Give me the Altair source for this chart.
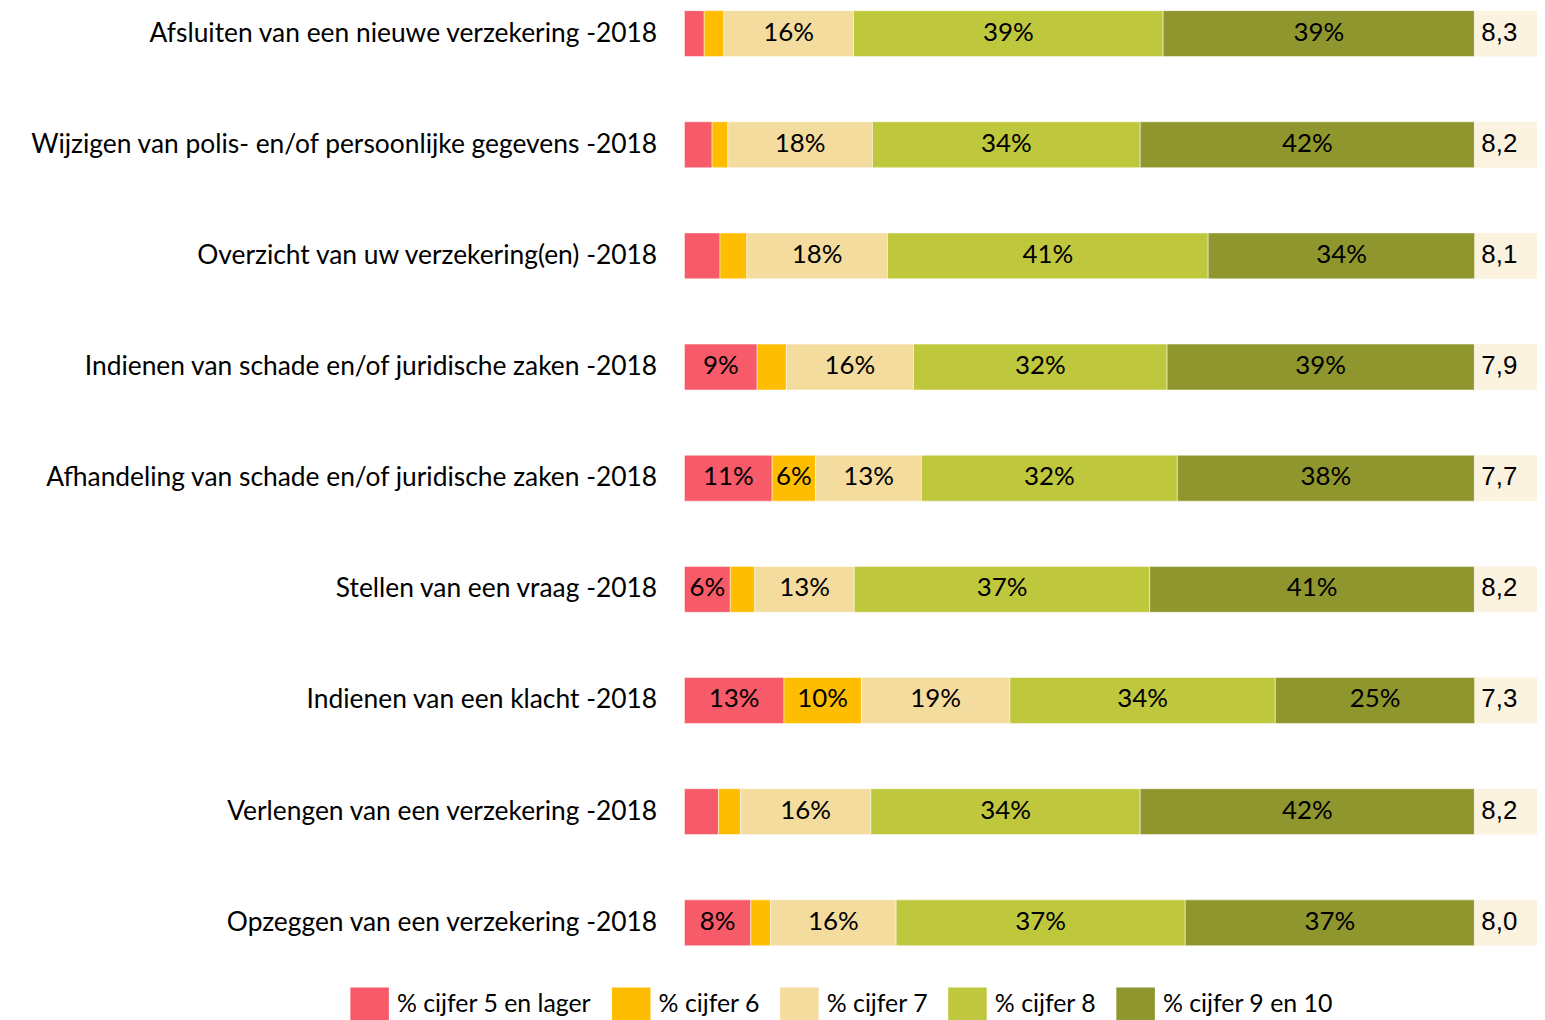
import altair as alt
import pandas as pd

categories = [
    "Afsluiten van een nieuwe verzekering -2018",
    "Wijzigen van polis- en/of persoonlijke gegevens -2018",
    "Overzicht van uw verzekering(en) -2018",
    "Indienen van schade en/of juridische zaken -2018",
    "Afhandeling van schade en/of juridische zaken -2018",
    "Stellen van een vraag -2018",
    "Indienen van een klacht -2018",
    "Verlengen van een verzekering -2018",
    "Opzeggen van een verzekering -2018",
]
series = ["% cijfer 5 en lager", "% cijfer 6", "% cijfer 7", "% cijfer 8", "% cijfer 9 en 10"]
s_5_lager = [2.5, 3.5, 4.5, 9.2, 11.1, 5.8, 12.6, 4.3, 8.4]
s_6 = [2.5, 2.0, 3.4, 3.7, 5.5, 3.1, 9.8, 2.8, 2.5]
s_7 = [16.4, 18.3, 17.8, 16.1, 13.4, 12.6, 18.8, 16.5, 15.9]
s_8 = [39.2, 33.9, 40.6, 32.1, 32.4, 37.4, 33.6, 34.1, 36.6]
s_9_10 = [39.4, 42.3, 33.8, 38.9, 37.6, 41.1, 25.3, 42.3, 36.6]
scores = ["8,3", "8,2", "8,1", "7,9", "7,7", "8,2", "7,3", "8,2", "8,0"]
colors = ["#F75A68", "#FFBD00", "#F4DC9E", "#BFC73C", "#8F962E"]

all_series = [s_5_lager, s_6, s_7, s_8, s_9_10]
rows = []
for si, (name, vals) in enumerate(zip(series, all_series)):
    for ci, cat in enumerate(categories):
        v = vals[ci]
        rows.append({"cat": cat, "series": name, "order": si, "value": v,
                     "label": f"{round(v)}%" if v >= 5 else ""})
df = pd.DataFrame(rows)
score_df = pd.DataFrame({"cat": categories, "score": scores})

FONT = "Lato"
xscale = alt.Scale(domain=[0, 107.93], nice=False, zero=False)
yenc = alt.Y("cat:N", sort=categories,
             scale=alt.Scale(paddingInner=0.587, paddingOuter=0.0),
             axis=alt.Axis(title=None, domain=False, ticks=False, labelPadding=28,
                           labelFontSize=26.5, labelFont=FONT, labelColor="#000000",
                           labelLimit=700))

base = alt.Chart(df).transform_stack(
    stack="value", groupby=["cat"], as_=["x0", "x1"],
    sort=[alt.SortField("order", order="ascending")]
).transform_calculate(mid="(datum.x0 + datum.x1) / 2")

bars = base.mark_bar(stroke="white", strokeWidth=0.5).encode(
    x=alt.X("x0:Q", scale=xscale, axis=None),
    x2="x1:Q",
    y=yenc,
    color=alt.Color("series:N", scale=alt.Scale(domain=series, range=colors),
                    legend=alt.Legend(title=None, orient="none", direction="horizontal",
                                      legendX=-336, legendY=979,
                                      symbolType="M-1,-0.87H1V0.87H-1Z",
                                      symbolSize=1500, symbolStrokeWidth=0,
                                      labelFontSize=25, labelFont=FONT, labelColor="#000000",
                                      columnPadding=20, symbolOffset=0, labelOffset=8,
                                      labelLimit=300)),
)
texts = base.mark_text(fontSize=26, font=FONT, color="#000000", baseline="middle", dy=-1).encode(
    x=alt.X("mid:Q", scale=xscale),
    y=alt.Y("cat:N", sort=categories),
    text="label:N",
)
box = alt.Chart(score_df).mark_bar(color="#FCF2E0").encode(
    x=alt.X(datum=100, scale=xscale),
    x2=alt.X2(datum=107.93),
    y=alt.Y("cat:N", sort=categories),
)
score_txt = alt.Chart(score_df).mark_text(fontSize=26, font="Liberation Sans", color="#000000",
                                          align="left", baseline="middle", dx=7, dy=-1).encode(
    x=alt.X(datum=100, scale=xscale),
    y=alt.Y("cat:N", sort=categories),
    text="score:N",
)

chart = alt.layer(bars, box, texts, score_txt).properties(
    width=857, height=940,
    padding={"left": 680, "top": 0, "right": 0, "bottom": 72},
    autosize=alt.AutoSizeParams(type="none"),
).configure_view(stroke=None)

chart.save("out.html", embed_options={"renderer": "svg", "actions": False})
